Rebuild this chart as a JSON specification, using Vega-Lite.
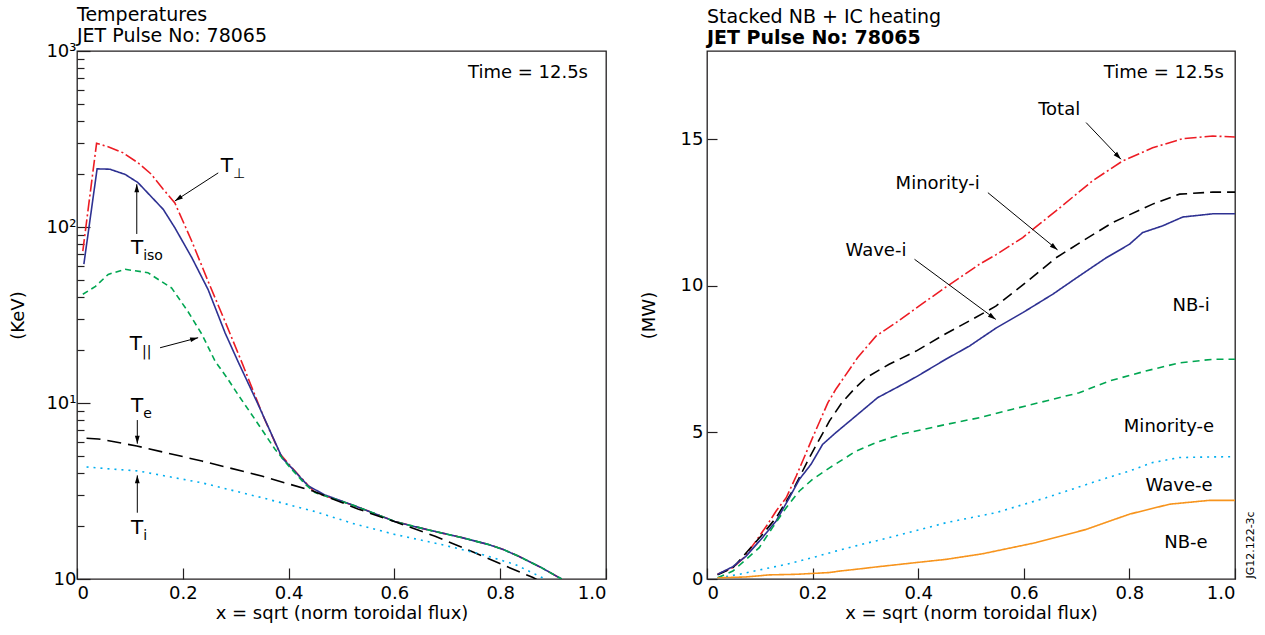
{
  "$schema": "https://vega.github.io/schema/vega-lite/v6.json",
  "background": "white",
  "padding": {"left": 9, "top": 5, "right": 5, "bottom": 5},
  "config": {
    "font": "DejaVu Sans",
    "view": {"stroke": "#231f20", "strokeWidth": 1.3},
    "axis": {"grid": false, "domain": false, "tickColor": "#231f20", "tickWidth": 1.2, "labelColor": "black", "titleColor": "black", "labelFontSize": 18, "titleFontSize": 18, "titleFontWeight": "normal", "labelFont": "DejaVu Sans", "titleFont": "DejaVu Sans"},
    "title": {"anchor": "start", "frame": "group", "fontSize": 19, "fontWeight": "normal", "color": "black", "subtitleFontSize": 19, "subtitleColor": "black", "subtitlePadding": 2, "offset": -4, "font": "DejaVu Sans", "subtitleFont": "DejaVu Sans"},
    "concat": {"spacing": 31},
    "text": {"font": "DejaVu Sans", "color": "black"}
  },
  "resolve": {"scale": {"color": "independent", "strokeDash": "independent", "x": "independent", "y": "independent"}},
  "datasets": {
    "temps": [
      {"s": "Tperp", "x": 0.011, "T": 73}, {"s": "Tperp", "x": 0.037, "T": 299}, {"s": "Tperp", "x": 0.06, "T": 285}, {"s": "Tperp", "x": 0.087, "T": 264}, {"s": "Tperp", "x": 0.115, "T": 232}, {"s": "Tperp", "x": 0.14, "T": 200}, {"s": "Tperp", "x": 0.163, "T": 164}, {"s": "Tperp", "x": 0.185, "T": 137}, {"s": "Tperp", "x": 0.217, "T": 83}, {"s": "Tperp", "x": 0.248, "T": 49}, {"s": "Tperp", "x": 0.28, "T": 29}, {"s": "Tperp", "x": 0.312, "T": 16.9}, {"s": "Tperp", "x": 0.352, "T": 8.44}, {"s": "Tperp", "x": 0.384, "T": 5.13}, {"s": "Tperp", "x": 0.406, "T": 4.3}, {"s": "Tperp", "x": 0.437, "T": 3.4}, {"s": "Tperp", "x": 0.45, "T": 3.1}, {"s": "Tperp", "x": 0.526, "T": 2.6}, {"s": "Tperp", "x": 0.601, "T": 2.12}, {"s": "Tperp", "x": 0.658, "T": 1.92}, {"s": "Tperp", "x": 0.727, "T": 1.72}, {"s": "Tperp", "x": 0.778, "T": 1.57}, {"s": "Tperp", "x": 0.806, "T": 1.47}, {"s": "Tperp", "x": 0.834, "T": 1.35}, {"s": "Tperp", "x": 0.878, "T": 1.16}, {"s": "Tperp", "x": 0.916, "T": 1.0},
      {"s": "Tiso", "x": 0.013, "T": 61.6}, {"s": "Tiso", "x": 0.038, "T": 214}, {"s": "Tiso", "x": 0.062, "T": 213}, {"s": "Tiso", "x": 0.091, "T": 199}, {"s": "Tiso", "x": 0.115, "T": 179}, {"s": "Tiso", "x": 0.163, "T": 126}, {"s": "Tiso", "x": 0.185, "T": 99}, {"s": "Tiso", "x": 0.217, "T": 67}, {"s": "Tiso", "x": 0.248, "T": 44}, {"s": "Tiso", "x": 0.28, "T": 25}, {"s": "Tiso", "x": 0.304, "T": 17.3}, {"s": "Tiso", "x": 0.342, "T": 9.87}, {"s": "Tiso", "x": 0.388, "T": 4.87}, {"s": "Tiso", "x": 0.406, "T": 4.27}, {"s": "Tiso", "x": 0.437, "T": 3.38}, {"s": "Tiso", "x": 0.469, "T": 3.0}, {"s": "Tiso", "x": 0.526, "T": 2.6}, {"s": "Tiso", "x": 0.601, "T": 2.12}, {"s": "Tiso", "x": 0.658, "T": 1.92}, {"s": "Tiso", "x": 0.727, "T": 1.72}, {"s": "Tiso", "x": 0.778, "T": 1.57}, {"s": "Tiso", "x": 0.806, "T": 1.47}, {"s": "Tiso", "x": 0.834, "T": 1.35}, {"s": "Tiso", "x": 0.878, "T": 1.16}, {"s": "Tiso", "x": 0.916, "T": 1.0},
      {"s": "Tpar", "x": 0.011, "T": 41.5}, {"s": "Tpar", "x": 0.035, "T": 46}, {"s": "Tpar", "x": 0.059, "T": 53.8}, {"s": "Tpar", "x": 0.091, "T": 57.5}, {"s": "Tpar", "x": 0.134, "T": 55}, {"s": "Tpar", "x": 0.179, "T": 45}, {"s": "Tpar", "x": 0.21, "T": 33}, {"s": "Tpar", "x": 0.236, "T": 24.6}, {"s": "Tpar", "x": 0.261, "T": 17.3}, {"s": "Tpar", "x": 0.285, "T": 13.7}, {"s": "Tpar", "x": 0.304, "T": 11.2}, {"s": "Tpar", "x": 0.336, "T": 8.11}, {"s": "Tpar", "x": 0.374, "T": 5.48}, {"s": "Tpar", "x": 0.397, "T": 4.5}, {"s": "Tpar", "x": 0.431, "T": 3.46}, {"s": "Tpar", "x": 0.45, "T": 3.1}, {"s": "Tpar", "x": 0.526, "T": 2.6}, {"s": "Tpar", "x": 0.601, "T": 2.12}, {"s": "Tpar", "x": 0.658, "T": 1.92}, {"s": "Tpar", "x": 0.727, "T": 1.72}, {"s": "Tpar", "x": 0.778, "T": 1.57}, {"s": "Tpar", "x": 0.806, "T": 1.47}, {"s": "Tpar", "x": 0.834, "T": 1.35}, {"s": "Tpar", "x": 0.878, "T": 1.16}, {"s": "Tpar", "x": 0.916, "T": 1.0},
      {"s": "Te", "x": 0.018, "T": 6.3}, {"s": "Te", "x": 0.04, "T": 6.25}, {"s": "Te", "x": 0.06, "T": 6.1}, {"s": "Te", "x": 0.113, "T": 5.7}, {"s": "Te", "x": 0.236, "T": 4.68}, {"s": "Te", "x": 0.349, "T": 3.85}, {"s": "Te", "x": 0.446, "T": 3.16}, {"s": "Te", "x": 0.531, "T": 2.5}, {"s": "Te", "x": 0.604, "T": 2.1}, {"s": "Te", "x": 0.677, "T": 1.75}, {"s": "Te", "x": 0.752, "T": 1.41}, {"s": "Te", "x": 0.803, "T": 1.21}, {"s": "Te", "x": 0.862, "T": 1.02}, {"s": "Te", "x": 0.875, "T": 0.97},
      {"s": "Ti", "x": 0.018, "T": 4.33}, {"s": "Ti", "x": 0.05, "T": 4.25}, {"s": "Ti", "x": 0.116, "T": 4.11}, {"s": "Ti", "x": 0.236, "T": 3.52}, {"s": "Ti", "x": 0.349, "T": 2.9}, {"s": "Ti", "x": 0.447, "T": 2.43}, {"s": "Ti", "x": 0.526, "T": 2.05}, {"s": "Ti", "x": 0.601, "T": 1.79}, {"s": "Ti", "x": 0.689, "T": 1.57}, {"s": "Ti", "x": 0.765, "T": 1.38}, {"s": "Ti", "x": 0.828, "T": 1.21}, {"s": "Ti", "x": 0.885, "T": 1.0}
    ],
    "leftArrows": [
      {"x": 0.267, "y": 203, "x2": 0.185, "y2": 140.6, "angle": 237},
      {"x": 0.113, "y": 91.3, "x2": 0.113, "y2": 175, "angle": 0},
      {"x": 0.157, "y": 20.6, "x2": 0.229, "y2": 23.5, "angle": 75},
      {"x": 0.114, "y": 8.0, "x2": 0.114, "y2": 5.87, "angle": 180},
      {"x": 0.114, "y": 2.38, "x2": 0.114, "y2": 3.88, "angle": 0}
    ],
    "leftLabels": [
      {"x": 0.295, "y": 222, "main": "T", "sub": "⊥"},
      {"x": 0.125, "y": 75.5, "main": "T", "sub": "iso"},
      {"x": 0.123, "y": 21.6, "main": "T", "sub": "||"},
      {"x": 0.125, "y": 9.6, "main": "T", "sub": "e"},
      {"x": 0.125, "y": 1.96, "main": "T", "sub": "i"}
    ],
    "leftNote": [{"x": 0.966, "y": 750, "label": "Time = 12.5s"}],
    "heat": [
      {"s": "Total", "x": 0.02, "P": 0.16}, {"s": "Total", "x": 0.049, "P": 0.39}, {"s": "Total", "x": 0.07, "P": 0.73}, {"s": "Total", "x": 0.093, "P": 1.3}, {"s": "Total", "x": 0.115, "P": 1.87}, {"s": "Total", "x": 0.131, "P": 2.32}, {"s": "Total", "x": 0.15, "P": 2.77}, {"s": "Total", "x": 0.169, "P": 3.51}, {"s": "Total", "x": 0.2, "P": 4.82}, {"s": "Total", "x": 0.229, "P": 6.01}, {"s": "Total", "x": 0.244, "P": 6.47}, {"s": "Total", "x": 0.285, "P": 7.54}, {"s": "Total", "x": 0.32, "P": 8.28}, {"s": "Total", "x": 0.358, "P": 8.74}, {"s": "Total", "x": 0.402, "P": 9.31}, {"s": "Total", "x": 0.453, "P": 9.96}, {"s": "Total", "x": 0.516, "P": 10.73}, {"s": "Total", "x": 0.547, "P": 11.05}, {"s": "Total", "x": 0.598, "P": 11.64}, {"s": "Total", "x": 0.661, "P": 12.55}, {"s": "Total", "x": 0.73, "P": 13.57}, {"s": "Total", "x": 0.787, "P": 14.25}, {"s": "Total", "x": 0.844, "P": 14.7}, {"s": "Total", "x": 0.901, "P": 15.01}, {"s": "Total", "x": 0.958, "P": 15.1}, {"s": "Total", "x": 1.0, "P": 15.07},
      {"s": "Minority-i", "x": 0.02, "P": 0.14}, {"s": "Minority-i", "x": 0.049, "P": 0.38}, {"s": "Minority-i", "x": 0.061, "P": 0.62}, {"s": "Minority-i", "x": 0.105, "P": 1.52}, {"s": "Minority-i", "x": 0.131, "P": 2.09}, {"s": "Minority-i", "x": 0.162, "P": 3.0}, {"s": "Minority-i", "x": 0.194, "P": 4.14}, {"s": "Minority-i", "x": 0.232, "P": 5.39}, {"s": "Minority-i", "x": 0.255, "P": 6.0}, {"s": "Minority-i", "x": 0.28, "P": 6.5}, {"s": "Minority-i", "x": 0.301, "P": 6.86}, {"s": "Minority-i", "x": 0.345, "P": 7.32}, {"s": "Minority-i", "x": 0.396, "P": 7.77}, {"s": "Minority-i", "x": 0.453, "P": 8.37}, {"s": "Minority-i", "x": 0.497, "P": 8.8}, {"s": "Minority-i", "x": 0.547, "P": 9.3}, {"s": "Minority-i", "x": 0.6, "P": 10.05}, {"s": "Minority-i", "x": 0.661, "P": 10.95}, {"s": "Minority-i", "x": 0.705, "P": 11.45}, {"s": "Minority-i", "x": 0.768, "P": 12.15}, {"s": "Minority-i", "x": 0.844, "P": 12.78}, {"s": "Minority-i", "x": 0.895, "P": 13.12}, {"s": "Minority-i", "x": 0.958, "P": 13.19}, {"s": "Minority-i", "x": 1.0, "P": 13.19},
      {"s": "Wave-i", "x": 0.02, "P": 0.16}, {"s": "Wave-i", "x": 0.049, "P": 0.42}, {"s": "Wave-i", "x": 0.074, "P": 0.78}, {"s": "Wave-i", "x": 0.105, "P": 1.41}, {"s": "Wave-i", "x": 0.131, "P": 1.98}, {"s": "Wave-i", "x": 0.156, "P": 2.77}, {"s": "Wave-i", "x": 0.175, "P": 3.4}, {"s": "Wave-i", "x": 0.197, "P": 3.91}, {"s": "Wave-i", "x": 0.219, "P": 4.59}, {"s": "Wave-i", "x": 0.244, "P": 4.99}, {"s": "Wave-i", "x": 0.282, "P": 5.56}, {"s": "Wave-i", "x": 0.323, "P": 6.18}, {"s": "Wave-i", "x": 0.371, "P": 6.64}, {"s": "Wave-i", "x": 0.399, "P": 6.92}, {"s": "Wave-i", "x": 0.453, "P": 7.5}, {"s": "Wave-i", "x": 0.497, "P": 7.94}, {"s": "Wave-i", "x": 0.547, "P": 8.55}, {"s": "Wave-i", "x": 0.598, "P": 9.08}, {"s": "Wave-i", "x": 0.655, "P": 9.71}, {"s": "Wave-i", "x": 0.705, "P": 10.33}, {"s": "Wave-i", "x": 0.756, "P": 10.95}, {"s": "Wave-i", "x": 0.8, "P": 11.41}, {"s": "Wave-i", "x": 0.825, "P": 11.81}, {"s": "Wave-i", "x": 0.863, "P": 12.04}, {"s": "Wave-i", "x": 0.901, "P": 12.34}, {"s": "Wave-i", "x": 0.958, "P": 12.45}, {"s": "Wave-i", "x": 1.0, "P": 12.45},
      {"s": "NB-i", "x": 0.02, "P": 0.04}, {"s": "NB-i", "x": 0.049, "P": 0.27}, {"s": "NB-i", "x": 0.074, "P": 0.67}, {"s": "NB-i", "x": 0.099, "P": 1.07}, {"s": "NB-i", "x": 0.124, "P": 1.75}, {"s": "NB-i", "x": 0.15, "P": 2.43}, {"s": "NB-i", "x": 0.175, "P": 3.0}, {"s": "NB-i", "x": 0.2, "P": 3.4}, {"s": "NB-i", "x": 0.232, "P": 3.79}, {"s": "NB-i", "x": 0.263, "P": 4.14}, {"s": "NB-i", "x": 0.282, "P": 4.36}, {"s": "NB-i", "x": 0.32, "P": 4.65}, {"s": "NB-i", "x": 0.371, "P": 4.95}, {"s": "NB-i", "x": 0.453, "P": 5.27}, {"s": "NB-i", "x": 0.516, "P": 5.5}, {"s": "NB-i", "x": 0.579, "P": 5.79}, {"s": "NB-i", "x": 0.642, "P": 6.07}, {"s": "NB-i", "x": 0.705, "P": 6.35}, {"s": "NB-i", "x": 0.762, "P": 6.75}, {"s": "NB-i", "x": 0.831, "P": 7.09}, {"s": "NB-i", "x": 0.895, "P": 7.37}, {"s": "NB-i", "x": 0.958, "P": 7.49}, {"s": "NB-i", "x": 1.0, "P": 7.49},
      {"s": "Wave-e", "x": 0.023, "P": 0.04}, {"s": "Wave-e", "x": 0.061, "P": 0.16}, {"s": "Wave-e", "x": 0.105, "P": 0.33}, {"s": "Wave-e", "x": 0.15, "P": 0.5}, {"s": "Wave-e", "x": 0.2, "P": 0.73}, {"s": "Wave-e", "x": 0.244, "P": 0.95}, {"s": "Wave-e", "x": 0.282, "P": 1.13}, {"s": "Wave-e", "x": 0.345, "P": 1.41}, {"s": "Wave-e", "x": 0.453, "P": 1.92}, {"s": "Wave-e", "x": 0.547, "P": 2.26}, {"s": "Wave-e", "x": 0.642, "P": 2.77}, {"s": "Wave-e", "x": 0.749, "P": 3.4}, {"s": "Wave-e", "x": 0.8, "P": 3.68}, {"s": "Wave-e", "x": 0.844, "P": 3.97}, {"s": "Wave-e", "x": 0.895, "P": 4.14}, {"s": "Wave-e", "x": 0.951, "P": 4.16}, {"s": "Wave-e", "x": 1.0, "P": 4.17},
      {"s": "NB-e", "x": 0.02, "P": 0.04}, {"s": "NB-e", "x": 0.074, "P": 0.07}, {"s": "NB-e", "x": 0.118, "P": 0.14}, {"s": "NB-e", "x": 0.169, "P": 0.16}, {"s": "NB-e", "x": 0.232, "P": 0.22}, {"s": "NB-e", "x": 0.251, "P": 0.27}, {"s": "NB-e", "x": 0.282, "P": 0.33}, {"s": "NB-e", "x": 0.32, "P": 0.41}, {"s": "NB-e", "x": 0.396, "P": 0.56}, {"s": "NB-e", "x": 0.453, "P": 0.67}, {"s": "NB-e", "x": 0.522, "P": 0.86}, {"s": "NB-e", "x": 0.623, "P": 1.24}, {"s": "NB-e", "x": 0.718, "P": 1.69}, {"s": "NB-e", "x": 0.8, "P": 2.21}, {"s": "NB-e", "x": 0.876, "P": 2.55}, {"s": "NB-e", "x": 0.951, "P": 2.68}, {"s": "NB-e", "x": 1.0, "P": 2.68}
    ],
    "rightArrows": [
      {"x": 0.718, "y": 15.56, "x2": 0.784, "y2": 14.31, "angle": 136},
      {"x": 0.532, "y": 13.17, "x2": 0.664, "y2": 11.22, "angle": 129},
      {"x": 0.393, "y": 10.9, "x2": 0.547, "y2": 8.85, "angle": 126}
    ],
    "rightLabels": [
      {"x": 0.667, "y": 15.99, "label": "Total"},
      {"x": 0.437, "y": 13.46, "label": "Minority-i"},
      {"x": 0.32, "y": 11.18, "label": "Wave-i"},
      {"x": 0.917, "y": 9.31, "label": "NB-i"},
      {"x": 0.875, "y": 5.19, "label": "Minority-e"},
      {"x": 0.894, "y": 3.17, "label": "Wave-e"},
      {"x": 0.907, "y": 1.24, "label": "NB-e"}
    ],
    "rightNote": [{"x": 0.979, "y": 17.25, "label": "Time = 12.5s"}],
    "stamp": [{"x": 1.03, "y": 1.16, "label": "JG12.122-3c"}]
  },
  "hconcat": [
    {
      "width": 529,
      "height": 528,
      "title": {"text": "Temperatures", "subtitle": "JET Pulse No: 78065", "subtitleFontWeight": "normal"},
      "resolve": {"axis": {"y": "independent"}},
      "layer": [
        {
          "data": {"name": "temps"},
          "mark": {"type": "line", "clip": true, "strokeWidth": 1.6},
          "encoding": {
            "x": {"field": "x", "type": "quantitative", "scale": {"domain": [0, 1]},
              "axis": {"values": [0, 0.2, 0.4, 0.6, 0.8, 1.0], "labelExpr": "datum.value == 0 ? '0' : format(datum.value, '.1f')", "tickSize": -11, "labelPadding": 16, "title": "x = sqrt (norm toroidal flux)", "titlePadding": 2}},
            "y": {"field": "T", "type": "quantitative", "scale": {"type": "log", "domain": [1, 1000]},
              "axis": {"orient": "left", "values": [2, 3, 4, 5, 6, 7, 8, 9, 20, 30, 40, 50, 60, 70, 80, 90, 200, 300, 400, 500, 600, 700, 800, 900], "labels": false, "tickSize": -7, "title": null}},
            "color": {"field": "s", "type": "nominal", "legend": null,
              "scale": {"domain": ["Tperp", "Tiso", "Tpar", "Te", "Ti"], "range": ["#ed1c24", "#2e3192", "#00a651", "#000000", "#00aeef"]}},
            "strokeDash": {"field": "s", "type": "nominal", "legend": null,
              "scale": {"domain": ["Tperp", "Tiso", "Tpar", "Te", "Ti"], "range": [[12, 3, 2, 3], [1, 0], [6, 4], [14, 7], [2, 5]]}}
          }
        },
        {
          "data": {"name": "leftArrows"},
          "mark": {"type": "rule", "color": "black", "strokeWidth": 1},
          "encoding": {
            "x": {"field": "x", "type": "quantitative", "scale": {"domain": [0, 1]}},
            "y": {"field": "y", "type": "quantitative", "scale": {"type": "log", "domain": [1, 1000]}, "axis": null},
            "x2": {"field": "x2"},
            "y2": {"field": "y2"}
          }
        },
        {
          "data": {"name": "leftArrows"},
          "mark": {"type": "point", "shape": "M0,0L-0.3,1L0.3,1Z", "filled": true, "color": "black", "opacity": 1, "size": 256},
          "encoding": {
            "x": {"field": "x2", "type": "quantitative", "scale": {"domain": [0, 1]}},
            "y": {"field": "y2", "type": "quantitative", "scale": {"type": "log", "domain": [1, 1000]}, "axis": null},
            "angle": {"field": "angle", "type": "quantitative", "scale": null}
          }
        },
        {
          "data": {"name": "leftLabels"},
          "mark": {"type": "text", "align": "right", "baseline": "middle", "fontSize": 20},
          "encoding": {
            "x": {"field": "x", "type": "quantitative", "scale": {"domain": [0, 1]}},
            "y": {"field": "y", "type": "quantitative", "scale": {"type": "log", "domain": [1, 1000]}, "axis": null},
            "text": {"field": "main"}
          }
        },
        {
          "data": {"name": "leftLabels"},
          "mark": {"type": "text", "align": "left", "baseline": "middle", "fontSize": 14, "dy": 8},
          "encoding": {
            "x": {"field": "x", "type": "quantitative", "scale": {"domain": [0, 1]}},
            "y": {"field": "y", "type": "quantitative", "scale": {"type": "log", "domain": [1, 1000]}, "axis": null},
            "text": {"field": "sub"}
          }
        },
        {
          "data": {"name": "leftNote"},
          "mark": {"type": "text", "align": "right", "baseline": "middle", "fontSize": 18},
          "encoding": {
            "x": {"field": "x", "type": "quantitative", "scale": {"domain": [0, 1]}},
            "y": {"field": "y", "type": "quantitative", "scale": {"type": "log", "domain": [1, 1000]},
              "axis": {"orient": "left", "values": [1, 10, 100, 1000], "labelExpr": "datum.value == 1000 ? '10³' : datum.value == 100 ? '10²' : datum.value == 10 ? '10¹' : '10'", "tickSize": -13, "labelPadding": 14, "title": "(KeV)", "titlePadding": 18}},
            "text": {"field": "label"}
          }
        }
      ]
    },
    {
      "width": 528,
      "height": 528,
      "title": {"text": "Stacked NB + IC heating", "subtitle": "JET Pulse No: 78065", "subtitleFontWeight": "bold", "offset": 3},
      "layer": [
        {
          "data": {"name": "heat"},
          "mark": {"type": "line", "clip": true, "strokeWidth": 1.6},
          "encoding": {
            "x": {"field": "x", "type": "quantitative", "scale": {"domain": [0, 1]},
              "axis": {"values": [0, 0.2, 0.4, 0.6, 0.8, 1.0], "labelExpr": "datum.value == 0 ? '0' : format(datum.value, '.1f')", "tickSize": -11, "labelPadding": 16, "title": "x = sqrt (norm toroidal flux)", "titlePadding": 2}},
            "y": {"field": "P", "type": "quantitative", "scale": {"domain": [0, 18]},
              "axis": {"values": [0, 5, 10, 15], "tickSize": -10, "labelPadding": 14, "title": "(MW)", "titlePadding": 22}},
            "color": {"field": "s", "type": "nominal", "legend": null,
              "scale": {"domain": ["Total", "Minority-i", "Wave-i", "NB-i", "Wave-e", "NB-e"], "range": ["#ed1c24", "#000000", "#2e3192", "#00a651", "#00aeef", "#f7941d"]}},
            "strokeDash": {"field": "s", "type": "nominal", "legend": null,
              "scale": {"domain": ["Total", "Minority-i", "Wave-i", "NB-i", "Wave-e", "NB-e"], "range": [[12, 3, 2, 3], [11, 6], [1, 0], [7, 5], [2, 5], [1, 0]]}}
          }
        },
        {
          "data": {"name": "rightArrows"},
          "mark": {"type": "rule", "color": "black", "strokeWidth": 1},
          "encoding": {
            "x": {"field": "x", "type": "quantitative", "scale": {"domain": [0, 1]}},
            "y": {"field": "y", "type": "quantitative", "scale": {"domain": [0, 18]}},
            "x2": {"field": "x2"},
            "y2": {"field": "y2"}
          }
        },
        {
          "data": {"name": "rightArrows"},
          "mark": {"type": "point", "shape": "M0,0L-0.3,1L0.3,1Z", "filled": true, "color": "black", "opacity": 1, "size": 256},
          "encoding": {
            "x": {"field": "x2", "type": "quantitative", "scale": {"domain": [0, 1]}},
            "y": {"field": "y2", "type": "quantitative", "scale": {"domain": [0, 18]}},
            "angle": {"field": "angle", "type": "quantitative", "scale": null}
          }
        },
        {
          "data": {"name": "rightLabels"},
          "mark": {"type": "text", "align": "center", "baseline": "middle", "fontSize": 18},
          "encoding": {
            "x": {"field": "x", "type": "quantitative", "scale": {"domain": [0, 1]}},
            "y": {"field": "y", "type": "quantitative", "scale": {"domain": [0, 18]}},
            "text": {"field": "label"}
          }
        },
        {
          "data": {"name": "rightNote"},
          "mark": {"type": "text", "align": "right", "baseline": "middle", "fontSize": 18},
          "encoding": {
            "x": {"field": "x", "type": "quantitative", "scale": {"domain": [0, 1]}},
            "y": {"field": "y", "type": "quantitative", "scale": {"domain": [0, 18]}},
            "text": {"field": "label"}
          }
        },
        {
          "data": {"name": "stamp"},
          "mark": {"type": "text", "align": "center", "baseline": "middle", "fontSize": 11, "angle": 270},
          "encoding": {
            "x": {"field": "x", "type": "quantitative", "scale": {"domain": [0, 1]}},
            "y": {"field": "y", "type": "quantitative", "scale": {"domain": [0, 18]}},
            "text": {"field": "label"}
          }
        }
      ]
    }
  ]
}
